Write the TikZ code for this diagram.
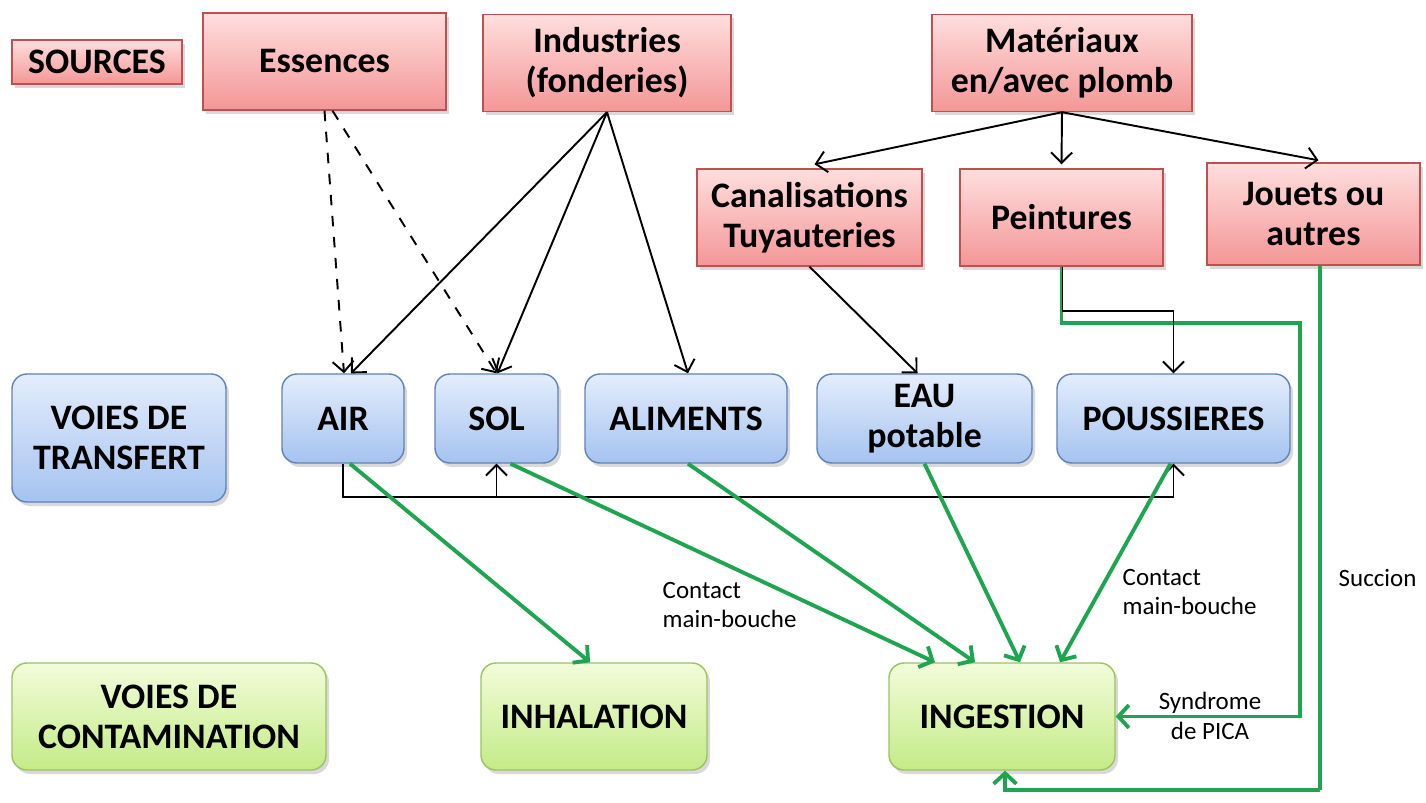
\documentclass[tikz,border=0pt]{standalone}
\usepackage{fontspec}
\setmainfont{Carlito}
\usetikzlibrary{arrows.meta,shadows,positioning}

\definecolor{srctop}{RGB}{255,222,222}
\definecolor{srcbot}{RGB}{244,150,150}
\definecolor{srcline}{RGB}{190,80,80}
\definecolor{trftop}{RGB}{228,237,252}
\definecolor{trfbot}{RGB}{165,195,240}
\definecolor{trfline}{RGB}{95,130,185}
\definecolor{ctmtop}{RGB}{242,252,218}
\definecolor{ctmbot}{RGB}{196,235,135}
\definecolor{ctmline}{RGB}{155,195,95}
\definecolor{voie}{RGB}{30,165,80}

\begin{document}
\begin{tikzpicture}[x=1cm,y=-1cm,
    every node/.style={font=\bfseries\fontsize{10.2}{11.4}\selectfont},
    shade/.style={drop shadow={opacity=0.3,shadow xshift=0.3mm,shadow yshift=-0.4mm}},
    src/.style={shade,draw=srcline,top color=srctop,bottom color=srcbot,
        minimum height=0.97cm,align=center,inner sep=0pt},
    trf/.style={shade,draw=trfline,top color=trftop,bottom color=trfbot,
        rounded corners=0.15cm,minimum height=0.89cm,align=center,inner sep=0pt},
    ctm/.style={shade,draw=ctmline,top color=ctmtop,bottom color=ctmbot,
        rounded corners=0.15cm,minimum height=1.07cm,align=center,inner sep=0pt},
    note/.style={font=\fontsize{7.1}{8.3}\selectfont,align=left,inner sep=0pt},
    fleche/.style={-{Straight Barb[length=3pt,width=6pt]},line width=0.55pt},
    voie/.style={-{Straight Barb[length=3pt,width=6.5pt]},draw=voie,line width=1.1pt}]
    \useasboundingbox (0,0) rectangle (14.26,8.03);

    % sources
    \node[src,minimum width=1.70cm,minimum height=0.44cm] (sources) at (0.97,0.62) {SOURCES};
    \node[src,minimum width=2.43cm] (ess) at (3.245,0.615) {Essences};
    \node[src,minimum width=2.48cm] (ind) at (6.07,0.63) {Industries\\(fonderies)};
    \node[src,minimum width=2.60cm] (mat) at (10.62,0.63) {Matériaux\\en/avec plomb};
    \node[src,minimum width=2.25cm] (can) at (8.095,2.175) {Canalisations\\Tuyauteries};
    \node[src,minimum width=2.03cm] (pei) at (10.615,2.175) {Peintures};
    \node[src,minimum width=2.13cm,minimum height=1.02cm] (jou) at (13.135,2.14) {Jouets ou\\autres};

    % voies de transfert
    \node[trf,minimum width=2.14cm,minimum height=1.28cm] (transfert) at (1.19,4.38) {VOIES DE\\TRANSFERT};
    \node[trf,minimum width=1.22cm] (air) at (3.43,4.185) {AIR};
    \node[trf,minimum width=1.23cm] (sol) at (4.965,4.185) {SOL};
    \node[trf,minimum width=2.02cm] (ali) at (6.86,4.185) {ALIMENTS};
    \node[trf,minimum width=2.15cm] (eau) at (9.245,4.185) {EAU\\potable};
    \node[trf,minimum width=2.33cm] (pou) at (11.735,4.185) {POUSSIERES};

    % voies de contamination
    \node[ctm,minimum width=3.14cm] (contamination) at (1.69,7.165) {VOIES DE\\CONTAMINATION};
    \node[ctm,minimum width=2.26cm] (inh) at (5.94,7.165) {INHALATION};
    \node[ctm,minimum width=2.26cm] (ing) at (10.02,7.165) {INGESTION};

    % sources -> transfert
    \draw[fleche,dashed] (ess.south) -- ([xshift=0.01cm]air.north);
    \draw[fleche,dashed] ([xshift=0.08cm]ess.south) -- (sol.north);
    \draw[fleche] (ind.south) -- ([xshift=0.08cm]air.north);
    \draw[fleche] (ind.south) -- ([xshift=0.01cm]sol.north);
    \draw[fleche] (ind.south) -- ([xshift=0.02cm]ali.north);
    \draw[fleche] (mat.south) -- ([xshift=0.05cm,yshift=0.04cm]can.north);
    \draw[fleche] (mat.south) -- ([yshift=0.04cm]pei.north);
    \draw[fleche] (mat.south) -- ([xshift=0.05cm,yshift=0.02cm]jou.north);
    \draw[fleche] (can.south) -- ([xshift=-0.07cm]eau.north);

    % green paths from paints and toys
    \coordinate (pica) at (13.00,3.23);
    \coordinate (succ) at (13.20,7.90);
    \draw[voie] (pei.south) |- (pica) |- (ing.east);
    \draw[voie] ([xshift=0.065cm]jou.south) |- (succ) -| ([xshift=0.03cm]ing.south);
    \draw[fleche] ([xshift=0.01cm]pei.south) -- ++(0,0.44) -| (pou.north);

    % between transfer paths
    \coordinate (bus) at (4.965,4.97);
    \draw[fleche] (air.south) |- (bus) -| (pou.south);
    \draw[fleche] (bus) -- (sol.south);

    % transfert -> contamination
    \draw[voie] ([xshift=0.07cm]air.south) -- ([xshift=-0.04cm]inh.north);
    \draw[voie] ([xshift=0.14cm]sol.south) -- ([xshift=-0.67cm]ing.north);
    \draw[voie] ([xshift=0.02cm]ali.south) -- ([xshift=-0.27cm]ing.north);
    \draw[voie] (eau.south) -- ([xshift=0.18cm]ing.north);
    \draw[voie] ([xshift=-0.03cm]pou.south) -- ([xshift=0.58cm]ing.north);

    % labels
    \node[note,anchor=west] (mb1) at (6.62,6.05) {Contact\\main-bouche};
    \node[note,anchor=west] (mb2) at (11.22,5.92) {Contact\\main-bouche};
    \node[note,anchor=west] (suc) at (13.38,5.78) {Succion};
    \node[note,align=center] (syn) at (12.10,7.16) {Syndrome\\de PICA};
\end{tikzpicture}
\end{document}
